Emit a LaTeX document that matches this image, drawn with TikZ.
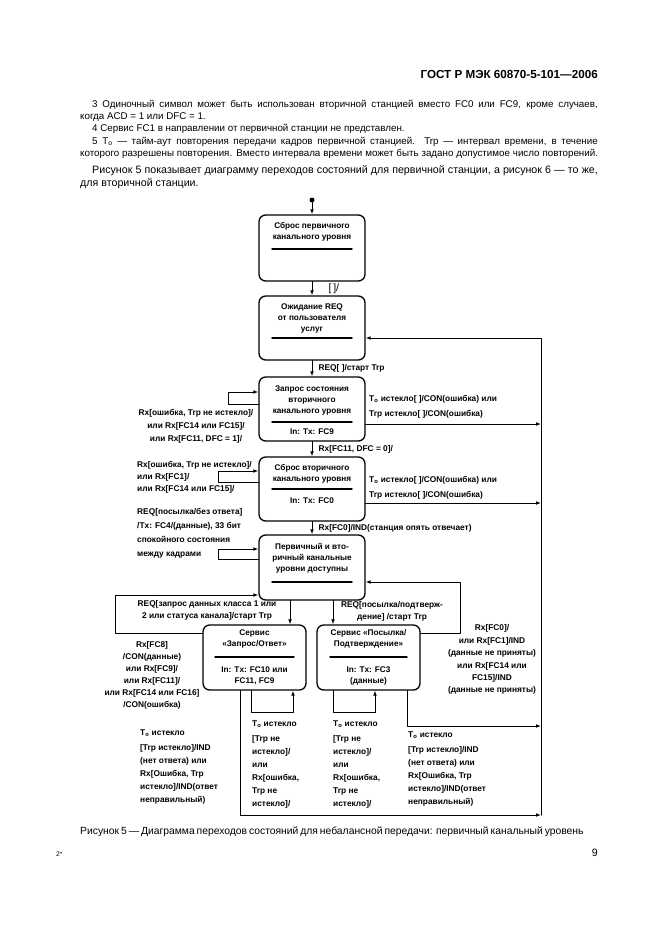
\documentclass[tikz,border=0pt]{standalone}
\usepackage{fontspec}
\setmainfont{Liberation Sans}
\usetikzlibrary{arrows.meta}
\newcommand{\notefont}{\fontsize{8.8}{10}\selectfont}
\newcommand{\parafont}{\fontsize{9.6}{11}\selectfont}
\newcommand{\capfont}{\fontsize{9.3}{11}\selectfont}
\newcommand{\dfont}{\fontsize{7.4}{9.9}\selectfont\bfseries}
\newcommand{\lfont}[1]{\fontsize{7.5}{#1}\selectfont\bfseries}
\begin{document}
\begin{tikzpicture}[x=0.9pt, y=-0.9pt, line join=round, line cap=round, >={Latex[length=4.5pt,width=3.4pt]},
		txt/.style={inner sep=0pt, anchor=base west},
		state/.style={draw, line width=1.2pt, rounded corners=6pt, minimum width=95.4pt, minimum height=57.6pt, inner sep=0pt},
		title/.style={anchor=north, align=center, inner sep=0pt, font=\dfont},
		lbl/.style={inner sep=0pt, font=\lfont{11.7pt}},
		sep/.style={line width=1.3pt},
		conn/.style={line width=0.9pt}]
			\useasboundingbox (0,0) rectangle (661,936);
			\node[txt, anchor=base east, font=\fontsize{10.5}{12}\selectfont\bfseries] (head) at (598,78) {ГОСТ Р МЭК 60870-5-101—2006};
			\node[txt, font=\notefont] (note3) at (92,107.5) {\makebox[455pt][s]{3 Одиночный символ может быть использован вторичной станцией вместо FC0 или FC9, кроме случаев,}};
			\node[txt, font=\notefont] (note3b) at (80,119.5) {когда ACD = 1 или DFC = 1.};
			\node[txt, font=\notefont] (note4) at (92,131.5) {4 Сервис FC1 в направлении от первичной станции не представлен.};
			\node[txt, font=\notefont] (note5) at (92,144) {\makebox[455pt][s]{5 T\textsubscript{o} — тайм-аут повторения передачи кадров первичной станцией. Trp — интервал времени, в течение}};
			\node[txt, font=\notefont] (note5b) at (80,156.5) {\makebox[466pt][s]{которого разрешены повторения. Вместо интервала времени может быть задано допустимое число повторений.}};
			\node[txt, font=\parafont] (para) at (92,173.5) {\makebox[455pt][s]{Рисунок 5 показывает диаграмму переходов состояний для первичной станции, а рисунок 6 — то же,}};
			\node[txt, font=\parafont] (parab) at (80,186.5) {для вторичной станции.};

			\node[circle, fill, inner sep=0pt, minimum size=4.5pt] (init) at (312,200) {};
			\node[state, minimum height=59.4pt] (reset) at (312,248) {};
			\node[state] (wait) at (312,328) {};
			\node[state] (query) at (312,409) {};
			\node[state] (reset2) at (312,489) {};
			\node[state, minimum height=58.5pt] (avail) at (312,567.5) {};
			\node[state, minimum width=92.7pt, minimum height=58.5pt] (reqresp) at (254.5,657.5) {};
			\node[state, minimum width=92.7pt, minimum height=58.5pt] (sendconf) at (368.5,657.5) {};

			\node[title] (reset-t) at (312,222.5) {Сброс первичного\\канального уровня};
			\node[title] (wait-t) at (312,303.5) {Ожидание REQ\\от пользователя\\услуг};
			\node[title] (query-t) at (312,385.5) {Запрос состояния\\вторичного\\канального уровня};
			\node[title] (query-in) at (312,428.5) {In: Tx: FC9};
			\node[title] (reset2-t) at (312,464.5) {Сброс вторичного\\канального уровня};
			\node[title] (reset2-in) at (312,497.5) {In: Tx: FC0};
			\node[title] (avail-t) at (312,543.5) {Первичный и вто-\\ричный канальные\\уровни доступны};
			\node[title] (reqresp-t) at (254.5,629.5) {Сервис\\«Запрос/Ответ»};
			\node[title] (reqresp-in) at (254.5,666.5) {In: Tx: FC10 или\\FC11, FC9};
			\node[title] (sendconf-t) at (368.5,629.5) {Сервис «Посылка/\\Подтверждение»};
			\node[title] (sendconf-in) at (368.5,666.5) {In: Tx: FC3\\(данные)};
			\foreach \y in {249,338,422,489,582}
				\draw[sep] (272,\y) -- (352,\y);
			\draw[sep] (215,657) -- (294,657);
			\draw[sep] (330,657) -- (407,657);

			\draw[conn,->] (init) -- (reset);
			\draw[conn,->] (reset) -- node[midway, anchor=west, inner sep=0pt, xshift=14.5pt, font=\fontsize{9.5}{10}\selectfont] (lbl-rw) {[\,]/} (wait);
			\draw[conn,->] (wait) -- node[lbl, midway, anchor=west, xshift=5.5pt] (lbl-wq) {REQ[ ]/старт Trp} (query);
			\draw[conn,->] (query) -- node[lbl, midway, anchor=west, xshift=5.5pt] (lbl-qr) {Rx[FC11, DFC = 0]/} (reset2);
			\draw[conn,->] (reset2) -- node[lbl, midway, anchor=west, xshift=5.5pt] (lbl-ra) {Rx[FC0]/IND(станция опять отвечает)} (avail);
			\draw[conn,->] (avail.south -| 290,0) -- (reqresp.north -| 290,0);
			\draw[conn,->] (avail.south -| 333,0) -- (sendconf.north -| 333,0);
			\node[lbl, align=center, anchor=north, font=\lfont{10.8pt}] (lbl-ar) at (207,600.5) {REQ[запрос данных класса 1 или\\2 или статуса канала]/старт Trp};
			\node[lbl, align=center, anchor=north, font=\lfont{10.8pt}] (lbl-as) at (392,601.5) {REQ[посылка/подтверж-\\дение] /старт Trp};

			\draw[conn,->] (query.west |- 0,404) -- (228,404) -- (228,392) -- (query.west |- 0,392);
			\draw[conn,->] (reset2.west |- 0,482) -- (218,482) -- (218,471) -- (reset2.west |- 0,471);
			\draw[conn,->] (avail.west |- 0,559) -- (218,559) -- (218,549) -- (avail.west |- 0,549);
			\draw[conn,->] (reqresp.west |- 0,633) -- (115,633) -- (115,595) -- (avail.west |- 0,595);
			\draw[conn,->] (sendconf.east |- 0,633) -- (460,633) -- (460,582) -- (avail.east |- 0,582);
			\draw[conn,->] (reqresp.south -| 251,0) -- (251,712) -- (293,712) -- (reqresp.south -| 293,0);
			\draw[conn,->] (sendconf.south -| 333,0) -- (333,712) -- (375,712) -- (sendconf.south -| 375,0);

			\coordinate (bus-top) at (541,338);
			\coordinate (bus-bot) at (541,815);
			\draw[conn,->] (bus-bot) -- (bus-top) -- (wait.east |- bus-top);
			\draw[conn,->] (query.east |- 0,424) -- (bus-top |- 0,424);
			\draw[conn,->] (reset2.east |- 0,503) -- (bus-top |- 0,503);
			\draw[conn,->] (sendconf.south -| 407,0) -- (407,726) -- (bus-top |- 0,726);
			\draw[conn,->] (reqresp.south -| 240,0) -- (240,815) -- (bus-bot);

			\node[lbl, align=left, anchor=north west, font=\lfont{13.5pt}] (lbl-q-out) at (369,395) {T\textsubscript{o} истекло[ ]/CON(ошибка) или\\Trp истекло[ ]/CON(ошибка)};
			\node[lbl, align=left, anchor=north west, font=\lfont{13.5pt}] (lbl-r-out) at (369,476) {T\textsubscript{o} истекло[ ]/CON(ошибка) или\\Trp истекло[ ]/CON(ошибка)};
			\node[lbl, align=center, anchor=north] (lbl-q-loop) at (196,409.5) {Rx[ошибка, Trp не истекло]/\\или Rx[FC14 или FC15]/\\или Rx[FC11, DFC = 1]/};
			\node[lbl, align=left, anchor=north west, font=\lfont{10.8pt}] (lbl-r-loop) at (137,461.5) {Rx[ошибка, Trp не истекло]/\\или Rx[FC1]/\\или Rx[FC14 или FC15]/};
			\node[lbl, align=left, anchor=north west, font=\lfont{12.6pt}] (lbl-a-loop) at (137,508.5) {REQ[посылка/без ответа]\\/Tx: FC4/(данные), 33 бит\\спокойного состояния\\между кадрами};
			\node[lbl, align=center, anchor=north, font=\lfont{10.8pt}] (lbl-rr-back) at (152,641.5) {Rx[FC8]\\/CON(данные)\\или Rx[FC9]/\\или Rx[FC11]/\\или Rx[FC14 или FC16]\\/CON(ошибка)};
			\node[lbl, align=center, anchor=north, font=\lfont{11.2pt}] (lbl-sc-back) at (492,624.5) {Rx[FC0]/\\или Rx[FC1]/IND\\(данные не приняты)\\или Rx[FC14 или\\FC15]/IND\\(данные не приняты)};
			\node[lbl, align=left, anchor=north west] (lbl-rr-out) at (140,729.5) {T\textsubscript{o} истекло\\[1.8pt]{[}Trp истекло]/IND\\(нет ответа) или\\Rx[Ошибка, Trp\\истекло]/IND(ответ\\неправильный)};
			\node[lbl, align=left, anchor=north west] (lbl-rr-self) at (252,720.5) {T\textsubscript{o} истекло\\[1.8pt]{[}Trp не\\истекло]/\\или\\Rx[ошибка,\\Trp не\\истекло]/};
			\node[lbl, align=left, anchor=north west] (lbl-sc-self) at (333,720.5) {T\textsubscript{o} истекло\\[1.8pt]{[}Trp не\\истекло]/\\или\\Rx[ошибка,\\Trp не\\истекло]/};
			\node[lbl, align=left, anchor=north west] (lbl-sc-out) at (408,731.5) {T\textsubscript{o} истекло\\[1.8pt]{[}Trp истекло]/IND\\(нет ответа) или\\Rx[Ошибка, Trp\\истекло]/IND(ответ\\неправильный)};

			\node[txt, font=\capfont] (caption) at (80,834) {\makebox[453pt][s]{Рисунок 5 — Диаграмма переходов состояний для небалансной передачи: первичный канальный уровень}};
			\node[txt, font=\fontsize{6}{7}\selectfont] (sheet) at (56,856) {2*};
			\node[txt, anchor=base east, font=\parafont] (page) at (598,856) {9};
\end{tikzpicture}
\end{document}
